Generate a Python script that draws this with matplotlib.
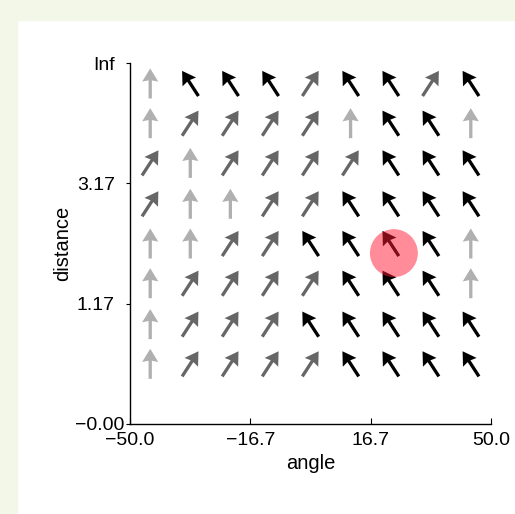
import matplotlib.pyplot as plt
import numpy as np

# column centres (angle) and row centres (distance, in axis index units)
angles = [-44.4, -33.3, -22.2, -11.1, 0.0, 11.1, 22.2, 33.3, 44.4]
distances = [2.83, 2.5, 2.17, 1.83, 1.5, 1.17, 0.83, 0.5]  # top row first

# arrow kind per cell, top row first: L = up (light), M = up-right (grey), B = up-left (black)
kinds = [
    "LBBBMBBMB",
    "LMMMMLBBL",
    "MLMMMMBBB",
    "MLLMMBBBB",
    "LLMMBBBBL",
    "LMMMMBBBL",
    "LMMMBBBBB",
    "LMMMMBBBB",
]

xtick_pos = [-50.0, -16.7, 16.7, 50.0]
xtick_labels = ["\u221250.0", "\u221216.7", "16.7", "50.0"]
ytick_pos = [0, 1, 2, 3]
ytick_labels = ["\u22120.00", "1.17", "3.17", "Inf"]

target = (23.1, 1.42)

tilt = {"L": 0.0, "M": 33.0, "B": -33.0}
shade = {"L": "#b0b0b0", "M": "#666666", "B": "#000000"}

plt.rcParams["font.family"] = ["Liberation Sans", "DejaVu Sans"]

fig = plt.figure(figsize=(5.15, 5.14), dpi=100)
fig.patch.set_facecolor("white")
# light green frame on the left and top
fig.patches.append(plt.Rectangle((0, 0), 17 / 515, 1, transform=fig.transFigure,
                                 color="#f3f7e8", zorder=0))
fig.patches.append(plt.Rectangle((0, 1 - 20 / 514), 1, 20 / 514, transform=fig.transFigure,
                                 color="#f3f7e8", zorder=0))

ax = fig.add_axes([130 / 515, 90 / 514, 361 / 515, 361 / 514])

X, Y, U, V, C = [], [], [], [], []
for r, row in enumerate(kinds):
    for c, k in enumerate(row):
        a = np.deg2rad(tilt[k])
        X.append(angles[c])
        Y.append(distances[r])
        U.append(np.sin(a))
        V.append(np.cos(a))
        C.append(shade[k])

ax.quiver(X, Y, U, V, color=C, pivot="middle", angles="uv",
          scale_units="inches", scale=1 / 0.30, units="dots", width=3.3,
          headwidth=4.9, headlength=4.0, headaxislength=3.6, zorder=2)

ax.scatter([target[0]], [target[1]], s=1190, color="#ff1a33", alpha=0.5,
           edgecolors="none", zorder=3)

ax.set_xlim(-50, 50)
ax.set_ylim(0, 3)
ax.set_xticks(xtick_pos)
ax.set_xticklabels(xtick_labels)
ax.set_yticks(ytick_pos)
ax.set_yticklabels(ytick_labels)
ax.tick_params(axis="x", direction="in", length=4, labelsize=14, pad=6)
ax.tick_params(axis="y", direction="out", length=3, labelsize=14, pad=8)
ax.yaxis.get_major_ticks()[0].set_pad(1)
for s in ["top", "right"]:
    ax.spines[s].set_visible(False)
for s in ["left", "bottom"]:
    ax.spines[s].set_linewidth(1.0)

ax.set_xlabel("angle", fontsize=14.5)
ax.set_ylabel("distance", fontsize=14.5)
ax.xaxis.set_label_coords(0.5, -0.083)
ax.yaxis.set_label_coords(-0.16, 0.5)

fig.savefig("out.png", dpi=100)
